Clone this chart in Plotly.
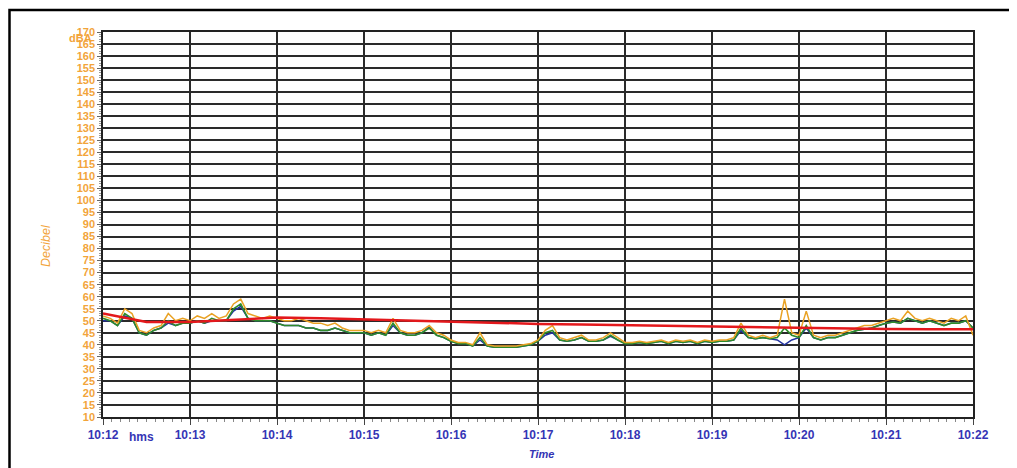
import pandas as pd
import plotly.graph_objects as go

# 5-second samples from 10:12:00 to 10:22:00
start = "2024-01-01 10:12:00"
times = pd.date_range(start, periods=121, freq="5s")

orange_db = [
    52, 51, 49, 55, 53, 46, 45, 47, 48, 53,
    50, 51, 50, 52, 51, 53, 51, 52, 57, 59,
    53, 52, 51, 52, 51, 50, 50, 51, 50, 49,
    49, 48, 49, 47, 46, 46, 46, 45, 46, 45,
    51, 46, 45, 45, 46, 48, 45, 44, 42, 41,
    41, 40, 45, 40, 39.5, 39.5, 39.5, 39.5, 40, 40.5,
    42, 46, 48, 43, 42, 43, 44, 42, 42, 43,
    45, 43, 41, 41, 41.5, 41, 41.5, 42, 41, 42,
    41.5, 42, 41, 42, 41.5, 42, 42, 43, 49, 44,
    43, 44, 43, 44, 59, 45, 44, 54, 44, 43,
    44, 44, 45, 46, 47, 48, 48, 49, 50, 51,
    50, 54, 51, 50, 51, 50, 49, 51, 50, 52,
    44,
]
green_db = [
    51, 50, 48, 53, 51, 45, 44, 46, 47, 50,
    48, 49, 49, 50, 49, 51, 50, 50, 55, 57,
    51, 50, 50, 50, 49, 48, 48, 48, 47, 47,
    46, 46, 47, 46, 45, 45, 45, 44, 45, 44,
    49, 45, 44, 44, 45, 47, 44, 43, 41.5, 40.5,
    40.5, 39.5, 43, 39.5, 39, 39, 39, 39, 39.5, 40,
    41.5, 45, 46, 42, 41.5, 42, 43, 41.5, 41.5, 42,
    44, 42, 40.5, 40.5, 41, 40.5, 41, 41.5, 40.5, 41.5,
    41, 41.5, 40.5, 41.5, 41, 41.5, 41.5, 42, 47, 43,
    42.5, 43, 42.5, 43, 47, 44, 43, 48, 43, 42,
    43, 43, 44, 45, 46, 46.5, 47, 48, 49, 49.5,
    49, 51, 50, 49, 50, 49, 48, 49, 49, 50,
    47,
]
blue_db = [
    50, 50, 48, 52, 51, 45, 44, 46, 47, 49,
    48, 49, 49, 50, 49, 50, 50, 50, 54, 56,
    51, 50, 50, 50, 49, 48, 48, 48, 47, 47,
    46, 46, 47, 46, 45, 45, 45, 44, 45, 44,
    48, 45, 44, 44, 45, 47.5, 44, 43, 41.5, 40.5,
    40.5, 39.5, 42, 39.5, 39, 39, 39, 39, 39.5, 40,
    41.5, 44, 45, 42, 41.5, 42, 43, 41.5, 41.5, 42,
    43.5, 42, 40.5, 40.5, 41, 40.5, 41, 41.5, 40.5, 41.5,
    41, 41.5, 40.5, 41.5, 41, 41.5, 41.5, 42, 46, 43,
    42.5, 43, 42.5, 42, 40, 42, 43, 47, 43, 42,
    43, 43, 44, 45, 46, 46.5, 47, 48, 49, 49.5,
    49, 51, 50, 49, 50, 49, 48, 49, 49, 50,
    47,
]

# running level, 30-second samples
red_times = pd.date_range(start, periods=21, freq="30s")
red_db = [53, 49.5, 49.5, 50.5, 51.3, 51, 50.5, 50, 49.6, 49.2, 48.7,
          48.4, 48.1, 47.8, 47.5, 47.2, 47, 46.8, 46.6, 46.5, 46.5]

y_ticks = list(range(10, 171, 5))

ORANGE_TXT = "#F2A43A"
BLUE_TXT = "#3535B5"
FONT = "Liberation Sans, Arial, sans-serif"

fig = go.Figure()
fig.add_trace(go.Scatter(x=times, y=blue_db, mode="lines",
                         line=dict(color="#2233A0", width=1.5), showlegend=False))
fig.add_trace(go.Scatter(x=times, y=green_db, mode="lines",
                         line=dict(color="#2E8B2A", width=1.6), showlegend=False))
fig.add_trace(go.Scatter(x=times, y=orange_db, mode="lines",
                         line=dict(color="#E9A224", width=1.5), showlegend=False))
fig.add_trace(go.Scatter(x=red_times, y=red_db, mode="lines",
                         line=dict(color="#E3181C", width=2.5), showlegend=False))

# the page body adds an 8px offset; margins compensate for it
fig.update_layout(
    width=1017, height=468,
    margin=dict(l=95, r=52, t=24, b=59),
    paper_bgcolor="white", plot_bgcolor="white",
    font=dict(family=FONT),
)
fig.update_xaxes(
    type="date",
    range=[times[0], times[-1]],
    dtick=60000, tickformat="%H:%M",
    tickfont=dict(color=BLUE_TXT, size=12, family=FONT, weight="bold"),
    showgrid=True, gridcolor="#2a2a2a", gridwidth=1.5,
    showline=True, linecolor="#222", linewidth=1.5, mirror=True,
    ticks="outside", ticklen=6, tickcolor="#444",
    minor=dict(dtick=6000, ticks="outside", ticklen=3, tickcolor="#888", showgrid=False),
    zeroline=False, automargin=False,
)
fig.update_yaxes(
    range=[10, 170],
    tickvals=y_ticks,
    tickfont=dict(color=ORANGE_TXT, size=11, family=FONT, weight="bold"),
    showgrid=True, gridcolor="#2a2a2a", gridwidth=1.5,
    showline=True, linecolor="#222", linewidth=1.5, mirror=True,
    ticks="outside", ticklen=4, tickcolor="#666",
    minor=dict(dtick=1, ticks="outside", ticklen=2, tickcolor="#999", showgrid=False),
    zeroline=False, automargin=False,
)

# outer frame
fig.add_shape(type="rect", xref="paper", yref="paper",
              x0=(9.5 - 103) / 870, x1=1.07, y0=-0.2, y1=(417 - 10) / 385,
              line=dict(color="black", width=2.5), layer="below")


def px_x(p):
    return (p - 103) / 870


def px_y(p):
    return (417 - p) / 385


common = dict(xref="paper", yref="paper", showarrow=False, xanchor="center", yanchor="middle")
fig.add_annotation(text="dBA", x=px_x(80), y=px_y(38),
                   font=dict(color=ORANGE_TXT, size=11, weight="bold"), **common)
fig.add_annotation(text="hms", x=px_x(141), y=px_y(437),
                   font=dict(color=BLUE_TXT, size=12, weight="bold"), **common)
fig.add_annotation(text="Time", x=px_x(541), y=px_y(454),
                   font=dict(color=BLUE_TXT, size=11, weight="bold", style="italic"), **common)
fig.add_annotation(text="Decibel", x=px_x(46), y=px_y(245), textangle=-90,
                   font=dict(color=ORANGE_TXT, size=12.5, style="italic"), **common)

fig.write_html("out.html")
